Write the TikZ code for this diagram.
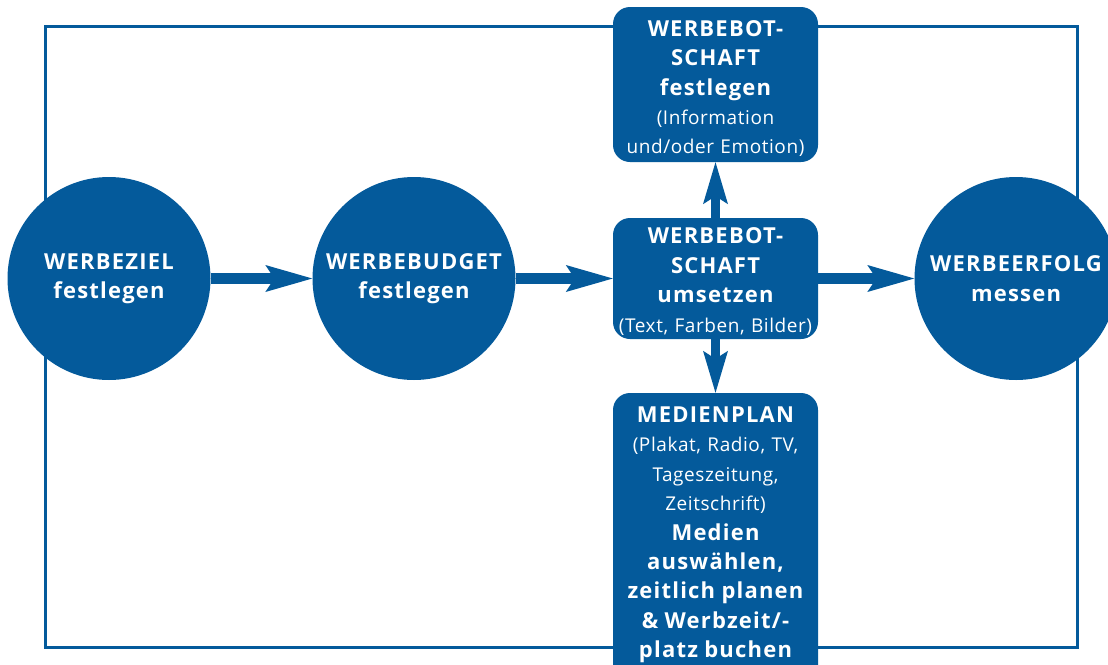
\documentclass[tikz,border=0pt]{standalone}
\usepackage{fontspec}
\setmainfont{Open Sans}
\newfontfamily\headfamily{Open Sans}[LetterSpace=5.5,WordSpace=1.4]
\newfontfamily\subfamily{Open Sans}[LetterSpace=3]
\usetikzlibrary{arrows.meta}
\definecolor{werbeblau}{RGB}{4,90,155}
% text styles used inside the blue shapes
\newcommand\headtxt{\headfamily\bfseries\fontsize{22}{29.4}\selectfont}
\newcommand\subtxt{\subfamily\mdseries\fontsize{19}{29.4}\selectfont}
\begin{document}
\begin{tikzpicture}[x=1pt,y=-1pt,
  every node/.style={inner sep=0pt, text=white},
  stage/.style={circle, fill=werbeblau, minimum size=203pt, align=center, font=\headtxt},
  panel/.style={rectangle, rounded corners=17pt, fill=werbeblau, minimum width=205pt},
  paneltext/.style={anchor=north, align=center, text width=204pt, font=\subtxt},
  flow/.style={draw=werbeblau, line width=11pt,
    -{Stealth[length=47pt,width=27pt,inset=9pt,line width=0pt]}},
  vflow/.style={draw=werbeblau, line width=9.5pt,
    -{Stealth[length=42pt,width=25pt,inset=8pt,line width=0pt]}}
]
\useasboundingbox (0,0) rectangle (1108,664);
\clip (0,0) rectangle (1108,664);

% surrounding frame
\draw[werbeblau, line width=2.4pt] (45.5,26.5) rectangle (1077.3,647.3);

% stages
\node[stage] (ziel)   at (109,278.5)  {WERBEZIEL\\festlegen};
\node[stage] (budget) at (414,278.5)  {WERBEBUDGET\\festlegen};
\node[stage] (erfolg) at (1016,278.5) {WERBEERFOLG\\messen};

% panels
\node[panel, minimum height=155pt] (festlegen) at (715.5,84.5) {};
\node[panel, minimum height=121pt] (umsetzen)  at (715.5,278.5) {};
\node[panel, minimum height=304pt] (medien)    at (715.5,545) {};

\node[paneltext] (festlegenT) at ([yshift=-13.4pt]festlegen.north)
  {\headtxt WERBEBOT-\\SCHAFT\\festlegen\\\subtxt(Information\\und/oder Emotion)};
\node[paneltext] (umsetzenT) at ([yshift=-10pt]umsetzen.north)
  {\headtxt WERBEBOT-\\SCHAFT\\umsetzen\\\subtxt(Text, Farben, Bilder)};
\node[paneltext] (medienT) at ([yshift=-13.7pt]medien.north)
  {\headtxt MEDIENPLAN\\\subtxt(Plakat, Radio, TV,\\Tageszeitung,\\Zeitschrift)\\
   \headtxt Medien\\auswählen,\\zeitlich planen\\\& Werbzeit/-\\platz buchen};

% flow
\draw[flow] (ziel) -- (budget);
\draw[flow] (budget) -- (umsetzen);
\draw[flow] (umsetzen) -- (erfolg);
\draw[vflow] (umsetzen) -- (festlegen);
\draw[vflow] (umsetzen) -- (medien);
\end{tikzpicture}
\end{document}
